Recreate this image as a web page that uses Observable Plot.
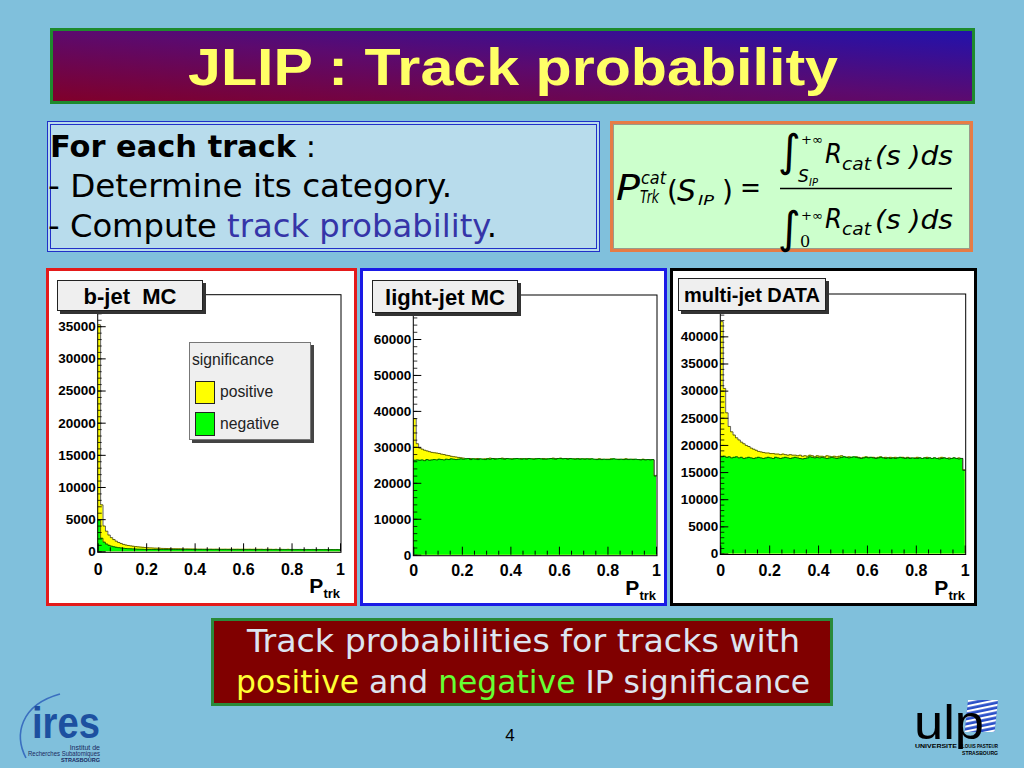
<!DOCTYPE html>
<html><head><meta charset="utf-8">
<script src="https://cdn.jsdelivr.net/npm/d3@7"></script>
<script src="https://cdn.jsdelivr.net/npm/@observablehq/plot@0.6"></script>
<style>
html,body{margin:0;padding:0;}
body{width:1024px;height:768px;background:#80c0dc;position:relative;overflow:hidden;font-family:"Liberation Sans",Arial,sans-serif;}
.abs{position:absolute;box-sizing:border-box;}
#titlebox{left:50px;top:28px;width:925px;height:76px;border:3px solid #1e8a2e;background:linear-gradient(to top right,#80002a 0%,#5c0a6e 50%,#2212ac 100%);}
#textbox{left:47px;top:121px;width:553px;height:131px;border:4px double #2030c8;background:#b8dcec;}
#formbox{left:610px;top:121px;width:363px;height:131px;border:3px solid #e67c46;background:#ccffcc;box-shadow:inset 0 0 0 1px #9a9a8a;}
.panel{top:268px;height:338px;background:#fff;border:3px solid;}
#p1{left:46px;width:311px;border-color:#e41a1a;}
#p2{left:360px;width:307px;border-color:#1a1ae6;}
#p3{left:670px;width:307px;border-color:#000;}
.chart{position:absolute;left:0;top:0;}
.tbox{position:absolute;box-sizing:border-box;background:#efefef;border:1px solid #222;box-shadow:3px 3px 0 #333;font-weight:bold;text-align:center;white-space:pre;color:#000;}
.legend{position:absolute;box-sizing:border-box;left:140px;top:71px;width:122px;height:98px;background:#efefef;border:1px solid #777;box-shadow:3px 3px 0 #444;font-size:15.7px;color:#222;}
.legend .lt{position:absolute;line-height:1;white-space:nowrap;}
.legend .sw{position:absolute;left:5px;width:20px;height:23px;box-sizing:border-box;border:1px solid #222;}
.ptrk{position:absolute;font-weight:bold;font-size:21px;line-height:1;white-space:nowrap;}
.ptrk span{font-size:13px;position:relative;top:5px;}
#capbox{left:211px;top:618px;width:622px;height:88px;border:3px solid #2a8a3a;background:#800000;}
#overlay{position:absolute;left:0;top:0;pointer-events:none;}
</style>
</head><body>
<div id="titlebox" class="abs"></div>
<div id="textbox" class="abs"></div>
<div id="formbox" class="abs"></div>
<div id="p1" class="abs panel">
  <div class="chart" id="c1"></div>
  <div class="tbox" style="left:8px;top:9px;width:146px;height:31px;line-height:31px;font-size:22px;">b-jet  MC</div>
  <div class="legend">
    <div class="lt" style="left:2px;top:9px;">significance</div>
    <div class="sw" style="top:38px;background:#ffff00;"></div>
    <div class="lt" style="left:30px;top:41px;">positive</div>
    <div class="sw" style="top:69px;height:24px;background:#00ff00;"></div>
    <div class="lt" style="left:30px;top:73px;">negative</div>
  </div>
  <div class="ptrk" style="right:14px;top:304px;">P<span>trk</span></div>
</div>
<div id="p2" class="abs panel">
  <div class="chart" id="c2"></div>
  <div class="tbox" style="left:9px;top:9px;width:146px;height:33px;line-height:33px;font-size:22px;">light-jet MC</div>
  <div class="ptrk" style="right:8px;top:306px;">P<span>trk</span></div>
</div>
<div id="p3" class="abs panel">
  <div class="chart" id="c3"></div>
  <div class="tbox" style="left:5px;top:7px;width:148px;height:33px;line-height:33px;font-size:20px;">multi-jet DATA</div>
  <div class="ptrk" style="right:9px;top:306px;">P<span>trk</span></div>
</div>
<div id="capbox" class="abs"></div>
<svg id="overlay" width="1024" height="768" xmlns="http://www.w3.org/2000/svg">
  <defs>
    <pattern id="stripes" width="5" height="5" patternUnits="userSpaceOnUse" patternTransform="rotate(-12)">
      <rect width="5" height="2.2" fill="#ffffff"/>
    </pattern>
  </defs>
  <text x="513" y="85" font-size="52" font-weight="bold" fill="#ffff66" text-anchor="middle" textLength="650" lengthAdjust="spacingAndGlyphs" font-family="Liberation Sans, Arial, sans-serif">JLIP : Track probability</text>

  <g font-family="DejaVu Sans, sans-serif" fill="#000">
    <text x="50" y="157" font-size="30" textLength="266" lengthAdjust="spacingAndGlyphs"><tspan font-weight="bold">For each track</tspan> :</text>
    <text x="48" y="197" font-size="32" textLength="404" lengthAdjust="spacingAndGlyphs">- Determine its category.</text>
    <text x="48" y="237" font-size="32" textLength="449" lengthAdjust="spacingAndGlyphs">- Compute <tspan fill="#3535a8">track probability</tspan>.</text>
  </g>

  <g font-family="DejaVu Sans, sans-serif" fill="#000" font-style="italic">
    <text x="616" y="200" font-size="36" textLength="24" lengthAdjust="spacingAndGlyphs">P</text>
    <text x="641" y="184" font-size="18" textLength="25" lengthAdjust="spacingAndGlyphs">cat</text>
    <text x="640" y="203" font-size="17" textLength="19" lengthAdjust="spacingAndGlyphs">Trk</text>
    <text x="667" y="201" font-size="28" font-style="normal">(</text>
    <text x="677" y="201" font-size="31" textLength="19" lengthAdjust="spacingAndGlyphs">S</text>
    <text x="698" y="205" font-size="14" textLength="16" lengthAdjust="spacingAndGlyphs">IP</text>
    <text x="722" y="201" font-size="28" font-style="normal">)</text>
    <text x="740" y="197" font-size="28" font-style="normal" textLength="21" lengthAdjust="spacingAndGlyphs">=</text>
    <line x1="780" y1="188.5" x2="952" y2="188.5" stroke="#000" stroke-width="1.5"/>
    <text x="778" y="166" font-size="44" font-style="normal">∫</text>
    <text x="801" y="144" font-size="13" font-style="normal">+∞</text>
    <text x="798" y="182" font-size="17">S</text>
    <text x="809" y="186" font-size="10">IP</text>
    <text x="825" y="163" font-size="26" textLength="17" lengthAdjust="spacingAndGlyphs">R</text>
    <text x="842" y="170" font-size="17" textLength="29" lengthAdjust="spacingAndGlyphs">cat</text>
    <text x="875" y="165" font-size="26" textLength="78" lengthAdjust="spacingAndGlyphs">(s )ds</text>
    <text x="778" y="243" font-size="44" font-style="normal">∫</text>
    <text x="801" y="220" font-size="13" font-style="normal">+∞</text>
    <text x="800" y="247" font-size="16" font-style="normal" font-family="DejaVu Serif, serif">0</text>
    <text x="825" y="228" font-size="26" textLength="17" lengthAdjust="spacingAndGlyphs">R</text>
    <text x="842" y="235" font-size="17" textLength="29" lengthAdjust="spacingAndGlyphs">cat</text>
    <text x="875" y="229" font-size="26" textLength="78" lengthAdjust="spacingAndGlyphs">(s )ds</text>
  </g>

  <g font-family="DejaVu Sans, sans-serif" font-size="32" fill="#dde4f0">
    <text x="523.5" y="652" text-anchor="middle" textLength="553" lengthAdjust="spacingAndGlyphs">Track probabilities for tracks with</text>
    <text x="523" y="693" text-anchor="middle" textLength="574" lengthAdjust="spacingAndGlyphs"><tspan fill="#ffff33">positive</tspan> and <tspan fill="#66ff33">negative</tspan> IP significance</text>
  </g>

  <text x="510" y="741" font-size="17" text-anchor="middle" fill="#000" font-family="Liberation Sans, Arial, sans-serif">4</text>

  <g font-family="Liberation Sans, Arial, sans-serif">
    <path d="M26 758 C 14 735, 20 705, 60 694" stroke="#3a6fc0" stroke-width="1.6" fill="none"/>
    <text x="32" y="738" font-size="44" font-weight="bold" fill="#1d50a0" textLength="68" lengthAdjust="spacingAndGlyphs">ires</text>
    <text x="100" y="750" font-size="7" text-anchor="end" fill="#1a2a60">Institut de</text>
    <text x="100" y="756" font-size="7" text-anchor="end" fill="#1a2a60" textLength="72" lengthAdjust="spacingAndGlyphs">Recherches Subatomiques</text>
    <text x="100" y="762" font-size="5.5" font-weight="bold" text-anchor="end" fill="#1a2a60">STRASBOURG</text>

    <g transform="translate(968,700) skewX(-6)">
      <rect width="30" height="32" fill="#2a4fc8"/>
      <rect width="30" height="32" fill="url(#stripes)"/>
    </g>
    <text x="914" y="739" font-size="48" fill="#000" textLength="70" lengthAdjust="spacingAndGlyphs">ulp</text>
    <text x="915" y="748" font-size="6" font-weight="bold" fill="#000" textLength="42" lengthAdjust="spacingAndGlyphs">UNIVERSITE</text>
    <text x="962" y="748" font-size="6" font-weight="bold" fill="#000" textLength="36" lengthAdjust="spacingAndGlyphs">LOUIS PASTEUR</text>
    <text x="962" y="755" font-size="6" font-weight="bold" fill="#000" textLength="36" lengthAdjust="spacingAndGlyphs">STRASBOURG</text>
  </g>
</svg>
<script>
// ---------- data (100 bins over P_trk in [0,1]) ----------
const nBins = 100;
const xTicks = [0, 0.2, 0.4, 0.6, 0.8, 1];
const xTickLabels = ["0", "0.2", "0.4", "0.6", "0.8", "1"];
const xMinorTicks = [0.05,0.1,0.15,0.25,0.3,0.35,0.45,0.5,0.55,0.65,0.7,0.75,0.85,0.9,0.95];

const bjetYTicks = [0, 5000, 10000, 15000, 20000, 25000, 30000, 35000];
const lightYTicks = [0, 10000, 20000, 30000, 40000, 50000, 60000];
const multiYTicks = [0, 5000, 10000, 15000, 20000, 25000, 30000, 35000, 40000];

const bjetPos = [
35300,7300,4000,3200,2600,2200,1900,1650,1450,1300,
1150,1050,980,920,860,810,770,730,700,660,
630,610,590,570,560,550,530,520,510,500,
490,480,470,470,460,450,450,440,430,430,
420,410,415,405,410,400,410,395,405,400,
400,395,405,390,400,395,390,400,385,395,
390,385,395,380,390,385,380,390,375,385,
380,380,375,385,370,380,375,370,380,365,
375,370,365,375,360,370,365,360,370,355,
365,360,355,365,350,360,355,350,360,340];
const bjetNeg = [
4900,2100,1500,1200,1000,880,780,700,640,590,
550,510,480,460,440,420,400,390,380,370,
365,360,362,358,360,355,358,352,356,350,
354,350,352,348,350,346,350,344,348,345,
346,342,345,340,344,340,342,338,341,337,
340,336,339,335,338,334,337,333,336,332,
335,332,334,330,333,330,332,328,331,328,
330,327,329,326,328,325,327,324,326,323,
325,322,324,321,323,320,322,319,321,318,
320,317,319,316,318,315,317,314,316,300];

const lightPos = [
38000,31000,29800,29500,29200,29000,28800,28600,28500,28400,
28300,28100,28000,27800,27700,27500,27400,27300,27200,27100,
27000,26900,26800,26900,26700,26800,26900,26600,26700,26800,
26900,27000,26800,26900,26700,26800,27000,26900,26800,26700,
26800,26900,26800,26700,26900,26800,26900,26800,26700,26800,
26900,26800,26700,26900,26800,26700,26800,27000,26900,26800,
27000,26900,26800,26900,26800,26700,26800,26900,26800,26700,
26800,26700,26800,26700,26600,26700,26800,26700,26600,26700,
26700,26800,26700,26600,26700,26600,26700,26800,26700,26600,
26700,26600,26500,26600,26700,26600,26500,26600,26500,22200];
const lightNeg = [
26400,26500,26400,26500,26300,26600,26400,26500,26600,26500,
26700,26600,26500,26700,26600,26800,26700,26600,26700,26800,
26700,26800,26900,26600,26800,26700,26600,26800,26700,26600,
26800,26700,26900,26700,26800,26900,26800,26700,26900,26800,
26700,26800,26900,26800,26700,26800,26700,26900,26800,26700,
26800,26900,26800,26700,26700,26800,26900,26800,26700,26900,
26900,26800,26900,26700,26900,26800,26700,26800,26700,26800,
26700,26800,26700,26800,26700,26600,26700,26600,26700,26600,
26600,26700,26800,26700,26600,26700,26600,26700,26600,26700,
26600,26700,26600,26500,26600,26500,26600,26500,26600,22000];

const multiPos = [
42800,30500,26000,23500,22500,21900,21400,21000,20600,20300,
20000,19800,19500,19300,19100,18900,18800,18700,18600,18600,
18500,18500,18400,18400,18300,18400,18300,18200,18300,18200,
18200,18100,18200,18000,18100,18000,18200,18100,17900,18100,
18000,18000,17900,18100,18000,17900,18000,17900,18000,18100,
17900,17800,17900,17800,17700,17900,17800,17700,17800,17900,
17800,17700,17800,17700,17800,17900,17700,17800,17700,17800,
17700,17800,17700,17600,17800,17700,17800,17700,17600,17700,
17800,17700,17600,17700,17800,17700,17600,17700,17600,17700,
17800,17700,17600,17700,17600,17700,17600,17700,17600,15500];
const multiNeg = [
17900,18000,17800,17900,17700,17800,17900,17700,17800,17600,
17700,17800,17700,17600,17700,17800,17700,17600,17700,17800,
17700,17600,17800,17700,17600,17700,17800,17700,17600,17700,
17800,17700,17600,17500,17600,17700,17900,17800,17700,17800,
17700,17800,17700,17600,17700,17800,17700,17600,17700,17800,
17900,17800,17700,17800,17900,17800,17700,17600,17700,17800,
17700,17800,17700,17600,17700,17800,17700,17600,17700,17600,
17700,17600,17700,17800,17700,17600,17700,17600,17700,17600,
17600,17700,17600,17700,17600,17700,17600,17700,17600,17500,
17600,17700,17600,17500,17600,17700,17600,17500,17600,15400];

// ---------- drawing ----------
function steps(arr) {
  const n = arr.length;
  return arr.map((v, i) => ({x: i / n, y: v})).concat([{x: 1, y: arr[n - 1]}]);
}

function makeHist(cfg) {
  const P = steps(cfg.pos), N = steps(cfg.neg);
  const fw = cfg.width - cfg.mL - cfg.mR, fh = cfg.height - cfg.mT - cfg.mB;
  const xPx = 1 / fw, yPx = cfg.yMax / fh;
  const yMinor = d3.range(0, cfg.yMax, cfg.yMinorStep);
  return Plot.plot({
    width: cfg.width, height: cfg.height,
    marginLeft: cfg.mL, marginRight: cfg.mR, marginTop: cfg.mT, marginBottom: cfg.mB,
    x: {domain: [0, 1], axis: null},
    y: {domain: [0, cfg.yMax], axis: null},
    style: {background: "white", fontFamily: "Liberation Sans, Arial, sans-serif", overflow: "visible", color: "#000"},
    marks: [
      Plot.areaY(P, {x: "x", y: "y", curve: "step-after", fill: "#ffff00"}),
      Plot.lineY(P, {x: "x", y: "y", curve: "step-after", stroke: "#000", strokeWidth: 0.6}),
      Plot.areaY(N, {x: "x", y: "y", curve: "step-after", fill: "#00ff00"}),
      Plot.lineY(N, {x: "x", y: "y", curve: "step-after", stroke: "#000", strokeWidth: 0.6}),
      Plot.ruleY(yMinor, {y: d => d, x1: () => 0, x2: () => 4 * xPx, stroke: "#000", strokeWidth: 0.8}),
      Plot.ruleY(cfg.yTicks, {y: d => d, x1: () => 0, x2: () => 8 * xPx, stroke: "#000"}),
      Plot.ruleX(xMinorTicks, {x: d => d, y1: () => 0, y2: () => 4 * yPx, stroke: "#000"}),
      Plot.ruleX(xTicks, {x: d => d, y1: () => 0, y2: () => 8 * yPx, stroke: "#000"}),
      Plot.frame({stroke: "#000", inset: -0.5}),
      Plot.text(cfg.yTicks, {x: () => 0, y: d => d, text: d => String(d), textAnchor: "end", dx: -2.5, fontSize: 13.5, fontWeight: "bold", fill: "#000"}),
      Plot.text(xTicks, {x: d => d, y: () => 0, text: (d, i) => xTickLabels[i], dy: cfg.xdy, fontSize: 16, fontWeight: "bold", fill: "#000"})
    ]
  });
}

document.getElementById("c1").appendChild(makeHist({
  pos: bjetPos, neg: bjetNeg, yMax: 39900, yTicks: bjetYTicks, yMinorStep: 1000,
  width: 305, height: 332, mL: 48.7, mR: 14, mT: 23.7, mB: 51.7, xdy: 18.5
}));
document.getElementById("c2").appendChild(makeHist({
  pos: lightPos, neg: lightNeg, yMax: 72240, yTicks: lightYTicks, yMinorStep: 2000,
  width: 301, height: 332, mL: 50.3, mR: 8, mT: 24, mB: 48.3, xdy: 15.5
}));
document.getElementById("c3").appendChild(makeHist({
  pos: multiPos, neg: multiNeg, yMax: 47800, yTicks: multiYTicks, yMinorStep: 1000,
  width: 301, height: 332, mL: 47.3, mR: 9.3, mT: 23, mB: 49.5, xdy: 16.5
}));
</script>
</body></html>
